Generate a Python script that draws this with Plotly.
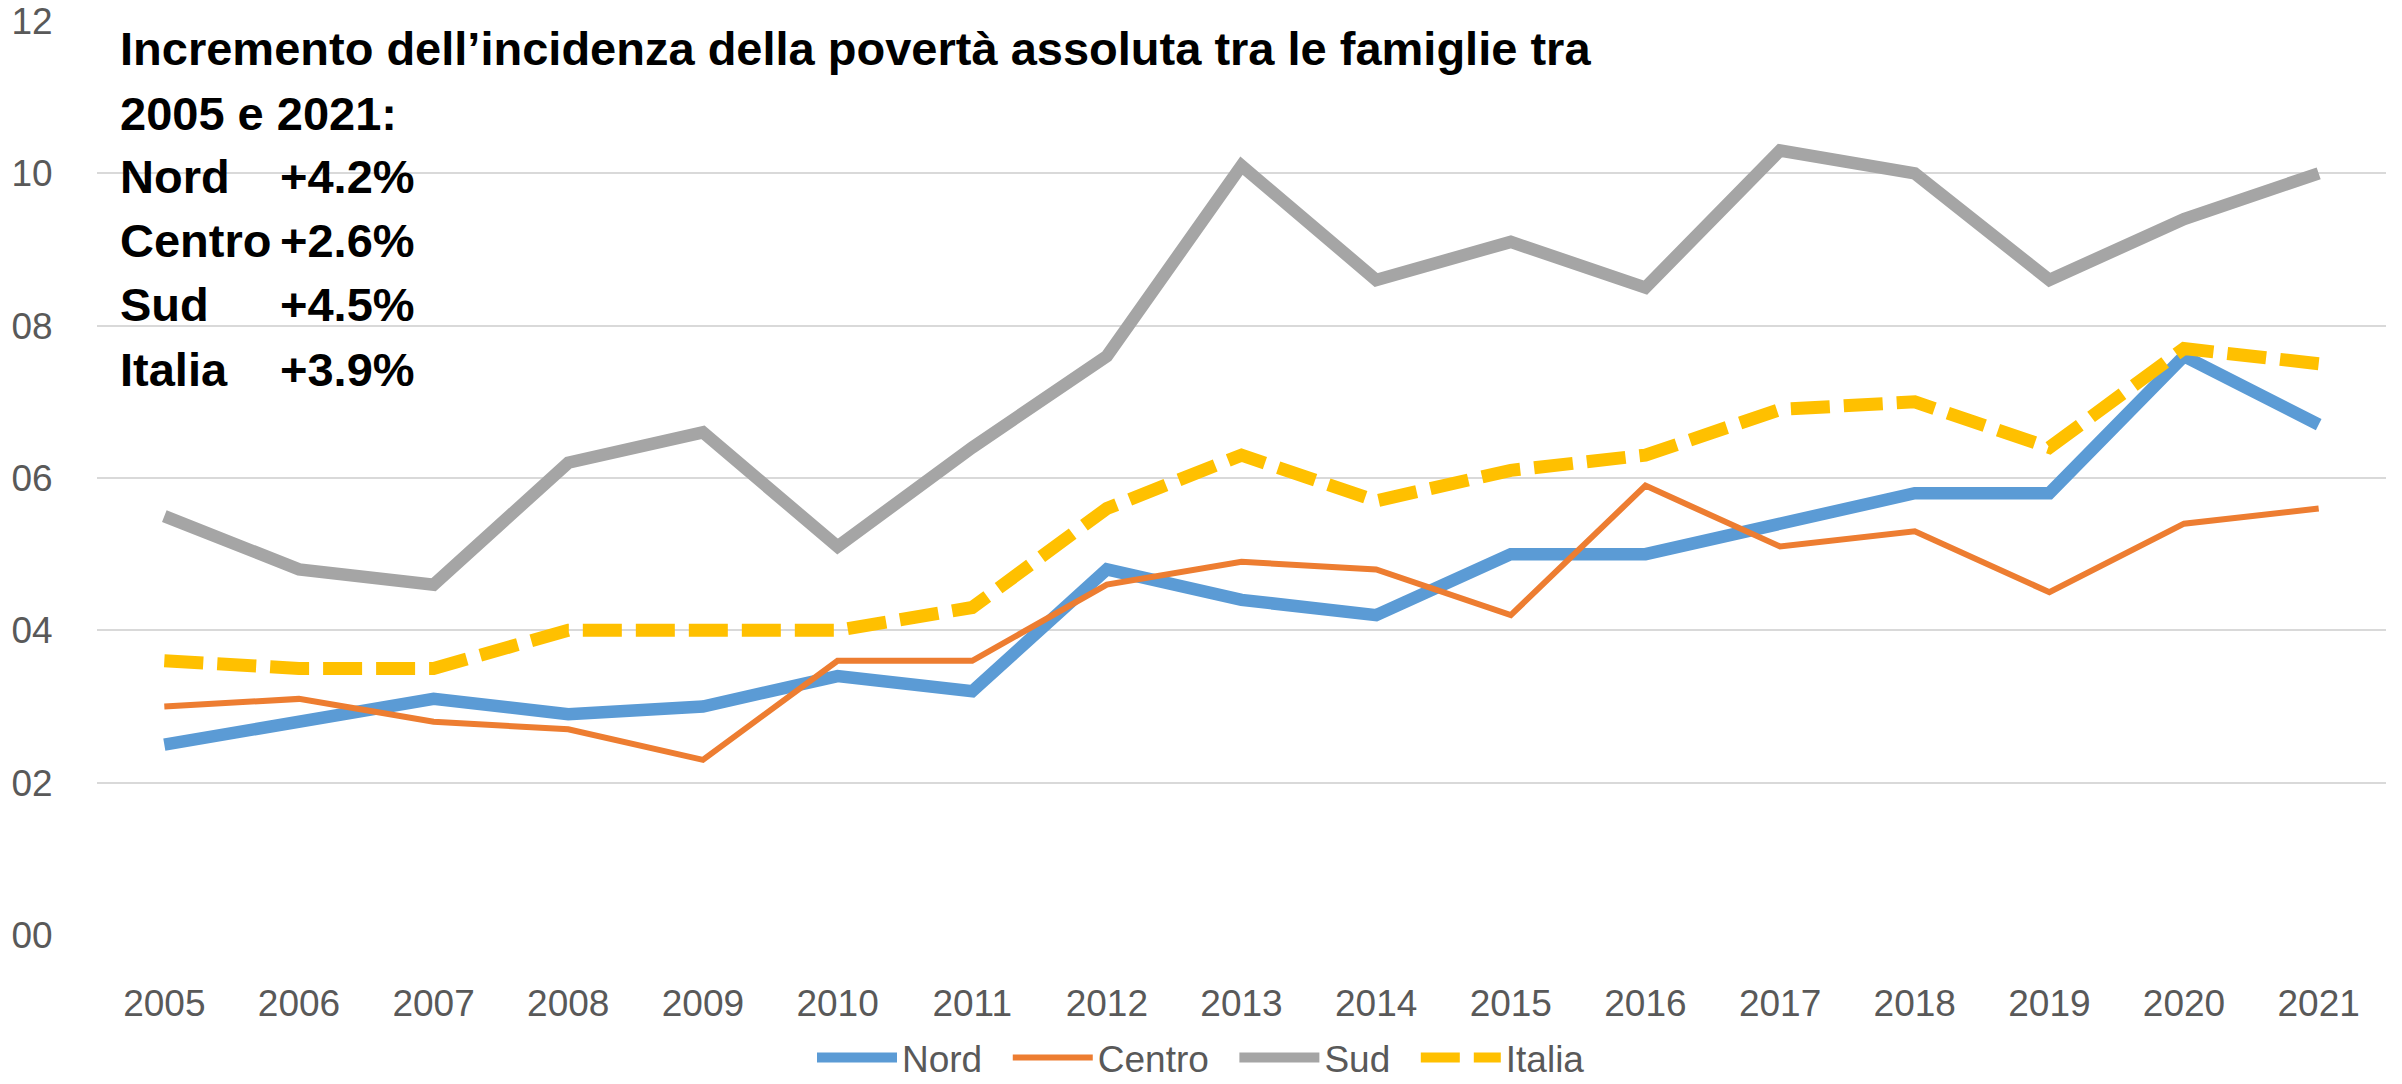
import plotly.graph_objects as go

# ---------------- data ----------------
years = ["2005", "2006", "2007", "2008", "2009", "2010", "2011", "2012", "2013",
         "2014", "2015", "2016", "2017", "2018", "2019", "2020", "2021"]
nord = [2.5, 2.8, 3.1, 2.9, 3.0, 3.4, 3.2, 4.8, 4.4, 4.2, 5.0, 5.0, 5.4, 5.8, 5.8, 7.6, 6.7]
centro = [3.0, 3.1, 2.8, 2.7, 2.3, 3.6, 3.6, 4.6, 4.9, 4.8, 4.2, 5.9, 5.1, 5.3, 4.5, 5.4, 5.6]
sud = [5.5, 4.8, 4.6, 6.2, 6.6, 5.1, 6.4, 7.6, 10.1, 8.6, 9.1, 8.5, 10.3, 10.0, 8.6, 9.4, 10.0]
italia = [3.6, 3.5, 3.5, 4.0, 4.0, 4.0, 4.3, 5.6, 6.3, 5.7, 6.1, 6.3, 6.9, 7.0, 6.4, 7.7, 7.5]

y_tickvals = [0, 2, 4, 6, 8, 10, 12]
y_ticktext = ["00", "02", "04", "06", "08", "10", "12"]

title_lines = ["Incremento dell\u2019incidenza della povert\u00e0 assoluta tra le famiglie tra",
               "2005 e 2021:"]
area_labels = ["Nord", "Centro", "Sud", "Italia"]
area_changes = ["+4.2%", "+2.6%", "+4.5%", "+3.9%"]

# ---------------- layout constants ----------------
W, H = 2402, 1084
L = 97
R = W - 2386
T = 21
B = H - 935
PW, PH = W - L - R, H - T - B
FONT = "Liberation Sans, Arial, sans-serif"
GREY_TXT = "#595959"
PAD = "\u00a0\u00a0"


def px_x(px):
    return (px - L) / PW


def px_y(py):
    return (H - B - py) / PH


fig = go.Figure()
fig.add_trace(go.Scatter(x=years, y=nord, name="Nord" + PAD, mode="lines",
                         line=dict(color="#5B9BD5", width=12.5)))
fig.add_trace(go.Scatter(x=years, y=centro, name="Centro" + PAD, mode="lines",
                         line=dict(color="#ED7D31", width=6)))
fig.add_trace(go.Scatter(x=years, y=sud, name="Sud" + PAD, mode="lines",
                         line=dict(color="#A5A5A5", width=12.5)))
fig.add_trace(go.Scatter(x=years, y=italia, name="Italia", mode="lines",
                         line=dict(color="#FFC000", width=13, dash="39px,14px")))

annotations = []
title_y = [49, 113]
for txt, yy in zip(title_lines, title_y):
    annotations.append(dict(text="<b>%s</b>" % txt, xref="paper", yref="paper",
                            x=px_x(118), y=px_y(yy), xanchor="left", yanchor="middle",
                            showarrow=False, font=dict(family=FONT, size=47, color="#000000")))
row_y = [177, 240, 304, 369]
for lab, ch, yy in zip(area_labels, area_changes, row_y):
    annotations.append(dict(text="<b>%s</b>" % lab, xref="paper", yref="paper",
                            x=px_x(118), y=px_y(yy), xanchor="left", yanchor="middle",
                            showarrow=False, font=dict(family=FONT, size=47, color="#000000")))
    annotations.append(dict(text="<b>%s</b>" % ch, xref="paper", yref="paper",
                            x=px_x(278), y=px_y(yy), xanchor="left", yanchor="middle",
                            showarrow=False, font=dict(family=FONT, size=47, color="#000000")))

fig.update_layout(
    width=W, height=H,
    margin=dict(l=L, r=R, t=T, b=B, autoexpand=False),
    paper_bgcolor="white", plot_bgcolor="white",
    font=dict(family=FONT, size=37, color=GREY_TXT),
    showlegend=True,
    legend=dict(orientation="h", xref="container", yref="container",
                x=0.5, xanchor="center", y=26 / H, yanchor="middle",
                font=dict(family=FONT, size=37, color=GREY_TXT),
                itemwidth=80, bgcolor="rgba(0,0,0,0)"),
    annotations=annotations,
)
fig.update_xaxes(type="category", range=[-0.5, len(years) - 0.5],
                 showgrid=False, zeroline=False, showline=False,
                 ticks="outside", ticklen=36, tickcolor="rgba(0,0,0,0)",
                 ticklabeloverflow="allow",
                 tickfont=dict(family=FONT, size=37, color=GREY_TXT), fixedrange=True)
fig.update_yaxes(range=[0, 12], tickvals=y_tickvals, ticktext=y_ticktext,
                 showgrid=True, gridcolor="#D9D9D9", gridwidth=2,
                 zeroline=False, showline=False,
                 ticks="outside", ticklen=36, tickcolor="rgba(0,0,0,0)",
                 ticklabeloverflow="allow",
                 tickfont=dict(family=FONT, size=37, color=GREY_TXT), fixedrange=True)

fig.write_html("out.html",
               config={"displayModeBar": False},
               post_script="document.body.style.margin='0';document.body.style.padding='0';")
